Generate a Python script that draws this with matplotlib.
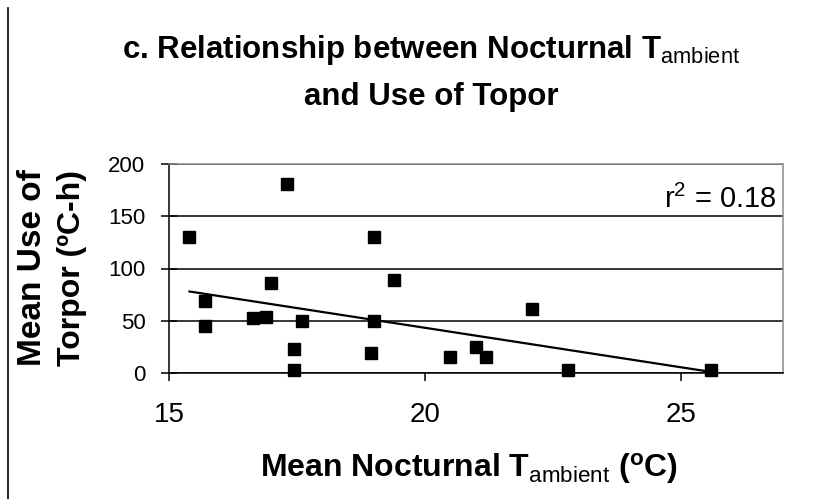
import matplotlib
matplotlib.use("Agg")
import matplotlib.pyplot as plt
from matplotlib.lines import Line2D

# Mean nocturnal ambient temperature (C) and mean use of torpor (C-h)
temp_ambient = [15.4, 17.3, 19.0, 19.4, 17.0, 15.7, 15.7, 16.65, 16.9, 17.6,
                19.0, 17.45, 17.45, 18.95, 20.5, 21.0, 21.2, 22.1, 22.8, 25.6]
torpor_use = [130, 181, 130, 89, 86, 69, 45, 53, 54, 50,
              50, 23, 3, 19, 15, 25, 15, 61, 3, 3]

# linear trendline as drawn on the chart
trend_x = [15.4, 25.6]
trend_y = [78, 1]
r_squared = 0.18

x_ticks = [15, 20, 25]
y_ticks = [0, 50, 100, 150, 200]

plt.rcParams['font.family'] = ['Liberation Sans', 'DejaVu Sans']
plt.rcParams['mathtext.fontset'] = 'custom'
plt.rcParams['mathtext.rm'] = 'Liberation Sans'
plt.rcParams['mathtext.it'] = 'Liberation Sans:italic'
plt.rcParams['mathtext.bf'] = 'Liberation Sans:bold'

fig = plt.figure(figsize=(8.35, 4.99), dpi=100)
ax = fig.add_axes([169/835, 1-373/499, 614/835, 209/499])

ax.set_axisbelow(True)
ax.grid(axis='y', color='black', linewidth=1.1)
ax.grid(axis='x', visible=False)

ax.plot(trend_x, trend_y, color='black', linewidth=1.6, zorder=3)
ax.plot(temp_ambient, torpor_use, linestyle='none', marker='s',
        markersize=8.5, color='black', zorder=4, clip_on=False)

ax.set_xlim(15, 27)
ax.set_ylim(0, 200)
ax.set_xticks(x_ticks)
ax.set_yticks(y_ticks)

ax.tick_params(axis='y', direction='inout', length=12, width=1.1,
               pad=11, labelsize=16, colors='black')
ax.tick_params(axis='x', direction='out', length=6, width=1.1,
               pad=15, labelsize=20, colors='black')

for side in ['left', 'bottom']:
    ax.spines[side].set_color('black')
    ax.spines[side].set_linewidth(1.1)
for side in ['top', 'right']:
    ax.spines[side].set_color('#8c8c8c')
    ax.spines[side].set_linewidth(1.1)

ax.text(0.99, 0.789, 'r$^2$ = %.2f' % r_squared, transform=ax.transAxes,
        ha='right', va='baseline', fontsize=21)

# title, two lines
fig.text(431/835, 1-58/499,
         r'c. Relationship between Nocturnal $\mathbf{T}_{\mathrm{ambient}}$',
         ha='center', va='baseline', fontsize=22.5, fontweight='bold')
fig.text(431/835, 1-105/499, 'and Use of Topor',
         ha='center', va='baseline', fontsize=22.5, fontweight='bold')

# y label, two lines
fig.text(33/835, 1-268/499, 'Mean Use of', rotation=90,
         ha='center', va='center', fontsize=24, fontweight='bold')
fig.text(72/835, 1-268/499, 'Torpor (\u00baC-h)', rotation=90,
         ha='center', va='center', fontsize=23, fontweight='bold')

# x label
fig.text(469/835, 1-468/499,
         r'Mean Nocturnal $\mathbf{T}_{\mathrm{ambient}}$ ($^{\mathbf{o}}$C)',
         ha='center', va='center', fontsize=23, fontweight='bold')

# left border line of the panel
fig.add_artist(Line2D([8/835, 8/835], [0, 1-8/499], color='black',
                      linewidth=1.2, transform=fig.transFigure))

fig.savefig('out.png', dpi=100)
